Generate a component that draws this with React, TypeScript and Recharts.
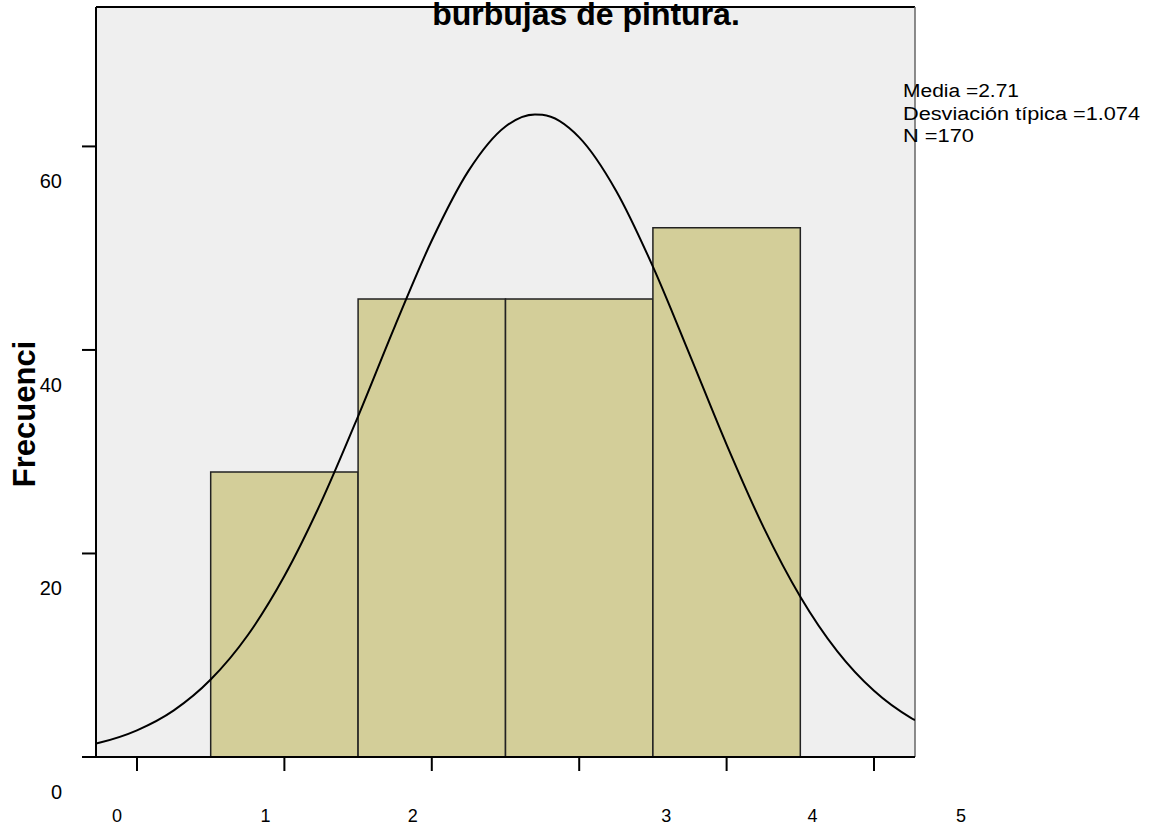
import React from "react";
import {
  ComposedChart,
  XAxis,
  YAxis,
  Line,
  ReferenceArea,
  ReferenceLine,
  CartesianGrid,
} from "recharts";

// ---- data ----
const TITLE = "burbujas de pintura.";
const Y_LABEL = "Frecuenci";
const STATS_LINES = ["Media =2.71", "Desviación típica =1.074", "N =170"];

const BIN_CENTERS = [1, 2, 3, 4];
const BIN_COUNTS = [28, 45, 45, 52];

const X_TICKS = [0, 1, 2, 3, 4, 5];
const X_TICK_LABELS = ["0", "1", "2", "3", "4", "5"];
const Y_TICKS = [0, 20, 40, 60];

const CURVE_X = [
  -0.278, -0.25, 0, 0.25, 0.5, 0.75, 1, 1.25, 1.5, 1.75, 2, 2.25, 2.5, 2.7,
  2.75, 3, 3.25, 3.5, 3.75, 4, 4.25, 4.5, 4.75, 5, 5.25, 5.278,
];
const CURVE_Y = [
  1.32, 1.42, 2.62, 4.58, 7.61, 11.94, 17.78, 25.07, 33.48, 42.35, 50.75,
  57.62, 61.96, 63.14, 63.11, 60.89, 55.65, 48.19, 39.52, 30.7, 22.59, 15.75,
  10.4, 6.5, 3.85, 3.62,
];

const X_MIN = -0.278;
const X_MAX = 5.278;
const Y_MAX = 73.7;

// ---- styling ----
const FONT = "'Liberation Sans', Arial, Helvetica, sans-serif";
const W = 1149;
const H = 830;
// label offsets of the x tick labels, as drawn in the reference
const X_LABEL_SHIFT = [-20, -19, -19, 87, 86, 87];

const curveData = CURVE_X.map((x, i) => ({ x, y: CURVE_Y[i] }));

const YTick = (props: any) => {
  const { x, y, payload } = props;
  return (
    <text
      x={x}
      y={y + 42}
      textAnchor="end"
      fontFamily={FONT}
      fontSize={20}
      fill="#000"
    >
      {String(payload.value)}
    </text>
  );
};

const XTick = (props: any) => {
  const { x, y, payload, index } = props;
  const i = X_TICKS.indexOf(payload.value);
  const k = i >= 0 ? i : index;
  return (
    <text
      x={x + X_LABEL_SHIFT[k]}
      y={y + 49}
      textAnchor="middle"
      fontFamily={FONT}
      fontSize={18}
      fill="#000"
    >
      {X_TICK_LABELS[k]}
    </text>
  );
};

export default function App() {
  return (
    <div
      style={{
        position: "absolute",
        left: 0,
        top: 0,
        width: W,
        height: H,
        background: "#fff",
      }}
    >
      <ComposedChart
        width={W}
        height={H}
        margin={{ top: 7, left: 46, right: 234, bottom: 13 }}
      >
        <CartesianGrid
          horizontal={false}
          vertical={false}
          fill="#efefef"
          fillOpacity={1}
        />
        <XAxis
          type="number"
          dataKey="x"
          domain={[X_MIN, X_MAX]}
          allowDataOverflow
          ticks={X_TICKS}
          interval={0}
          height={60}
          tickSize={14}
          tickMargin={2}
          axisLine={{ stroke: "#000", strokeWidth: 2 }}
          tickLine={{ stroke: "#000", strokeWidth: 2 }}
          tick={<XTick />}
        />
        <YAxis
          type="number"
          domain={[0, Y_MAX]}
          allowDataOverflow
          ticks={Y_TICKS}
          interval={0}
          width={50}
          tickSize={14}
          tickMargin={20}
          axisLine={{ stroke: "#000", strokeWidth: 2 }}
          tickLine={{ stroke: "#000", strokeWidth: 2 }}
          tick={<YTick />}
        />
        {BIN_CENTERS.map((c, i) => (
          <ReferenceArea
            key={c}
            x1={c - 0.5}
            x2={c + 0.5}
            y1={0}
            y2={BIN_COUNTS[i]}
            fill="#d3ce99"
            fillOpacity={1}
            stroke="#222"
            strokeWidth={1.5}
            ifOverflow="visible"
          />
        ))}
        <ReferenceLine
          y={Y_MAX}
          stroke="#000"
          strokeWidth={2}
          ifOverflow="visible"
        />
        <ReferenceLine
          x={X_MAX}
          stroke="#666"
          strokeWidth={1.5}
          ifOverflow="visible"
        />
        <Line
          data={curveData}
          dataKey="y"
          type="monotone"
          stroke="#000"
          strokeWidth={2}
          dot={false}
          activeDot={false}
          isAnimationActive={false}
        />
      </ComposedChart>
      <svg
        width={W}
        height={H}
        style={{ position: "absolute", left: 0, top: 0, pointerEvents: "none" }}
      >
        <text
          x={586}
          y={25}
          textAnchor="middle"
          fontFamily={FONT}
          fontWeight="bold"
          fontSize={32}
          fill="#000"
        >
          {TITLE}
        </text>
        <text
          x={35}
          y={414}
          transform="rotate(-90 35 414)"
          textAnchor="middle"
          fontFamily={FONT}
          fontWeight="bold"
          fontSize={31}
          fill="#000"
        >
          {Y_LABEL}
        </text>
        {STATS_LINES.map((s, i) => (
          <text
            key={s}
            x={903}
            y={97 + i * 22.5}
            fontFamily={FONT}
            fontSize={18}
            textLength={[116, 237, 71][i]}
            lengthAdjust="spacingAndGlyphs"
            fill="#000"
          >
            {s}
          </text>
        ))}
      </svg>
    </div>
  );
}
